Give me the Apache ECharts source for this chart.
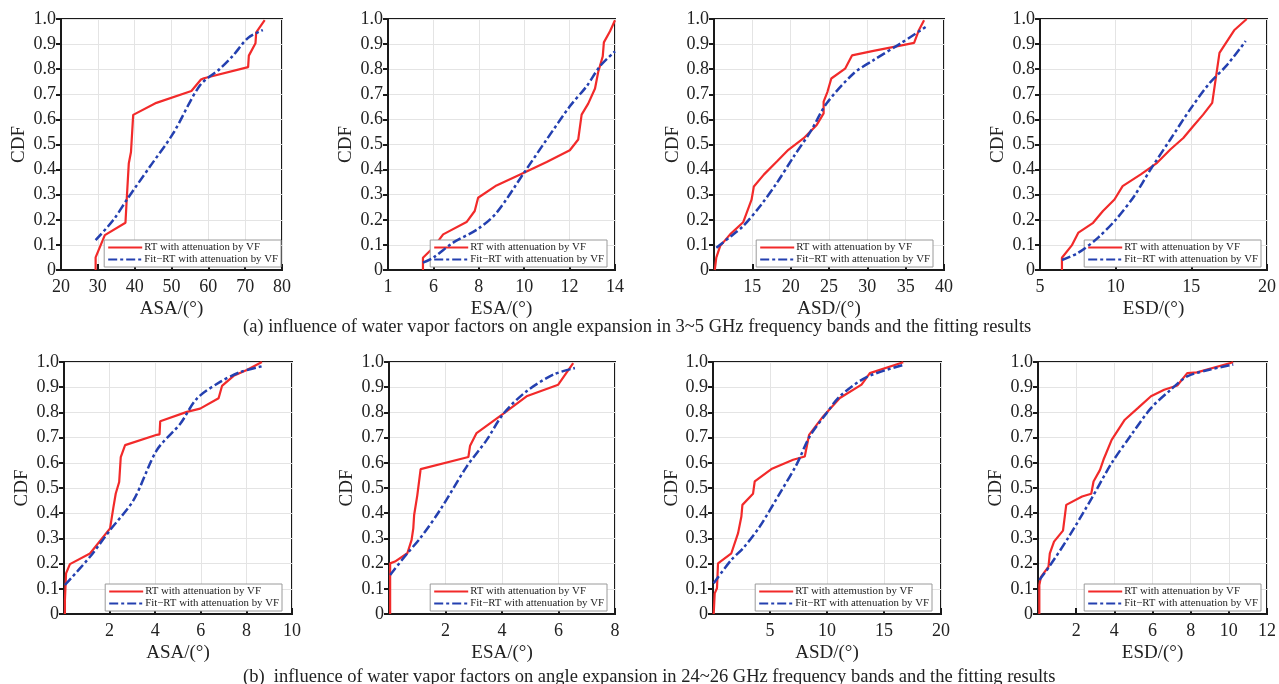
<!DOCTYPE html>
<html>
<head>
<meta charset="utf-8">
<script src="https://cdn.jsdelivr.net/npm/echarts@6/dist/echarts.min.js"></script>
<style>html,body{margin:0;padding:0;background:#fff;}#c{width:1279px;height:684px;}</style>
</head>
<body>
<div id="c"></div>
<script>
// ---- data (x, CDF) ----
const asaA_rt = [[29.4,0],[29.4,0.05],[31.9,0.139],[37.5,0.188],[37.8,0.27],[38.4,0.424],[39.0,0.47],[39.6,0.618],[45.9,0.666],[55.4,0.713],[58.0,0.759],[58.8,0.764],[70.8,0.808],[71.0,0.854],[72.8,0.903],[73.0,0.947],[75.3,0.996]];
const asaA_fit = [[29.4,0.119],[34.2,0.199],[38.1,0.285],[44.1,0.411],[50.4,0.543],[57.7,0.735],[63.1,0.801],[66.7,0.854],[70.8,0.925],[74.8,0.956]];
const esaA_rt = [[5.54,0],[5.54,0.049],[5.99,0.089],[6.43,0.142],[7.46,0.191],[7.82,0.235],[7.97,0.288],[8.78,0.337],[9.99,0.387],[10.99,0.43],[12.01,0.477],[12.38,0.52],[12.46,0.573],[12.53,0.619],[12.82,0.663],[13.12,0.723],[13.26,0.789],[13.46,0.851],[13.51,0.907],[13.78,0.951],[14.0,0.995]];
const esaA_fit = [[5.54,0.029],[5.99,0.049],[6.87,0.109],[7.97,0.164],[8.78,0.228],[9.99,0.387],[10.99,0.52],[12.01,0.652],[12.75,0.732],[13.34,0.812],[14.0,0.871]];
const asdA_rt = [[10.1,0],[10.3,0.049],[10.8,0.095],[12.1,0.142],[13.8,0.19],[14.9,0.28],[15.2,0.333],[16.5,0.38],[18.2,0.432],[19.7,0.479],[21.7,0.525],[23.4,0.578],[24.3,0.624],[24.3,0.671],[24.8,0.71],[25.3,0.763],[27.1,0.802],[28.0,0.855],[30.8,0.873],[34.8,0.897],[36.1,0.905],[36.7,0.954],[37.4,0.995]];
const asdA_fit = [[10.3,0.089],[12.1,0.132],[13.8,0.175],[16.0,0.254],[18.2,0.347],[20.4,0.452],[22.6,0.552],[24.7,0.664],[28.2,0.783],[30.8,0.836],[34.3,0.902],[37.6,0.968]];
const esdA_rt = [[6.45,0],[6.45,0.049],[7.1,0.098],[7.54,0.149],[8.51,0.188],[9.16,0.235],[9.92,0.281],[10.46,0.334],[11.66,0.381],[12.74,0.427],[13.61,0.48],[14.47,0.526],[15.12,0.573],[15.78,0.619],[16.38,0.666],[16.86,0.865],[17.29,0.905],[17.83,0.955],[18.66,1.0]];
const esdA_fit = [[6.45,0.04],[7.54,0.069],[8.84,0.129],[10.03,0.202],[11.22,0.294],[12.31,0.401],[13.61,0.52],[14.91,0.639],[16.21,0.745],[17.29,0.812],[18.59,0.912]];
const asaB_rt = [[0.04,0],[0.04,0.055],[0.09,0.161],[0.26,0.198],[1.14,0.24],[2.02,0.34],[2.17,0.425],[2.27,0.478],[2.42,0.524],[2.49,0.623],[2.68,0.67],[4.07,0.711],[4.19,0.713],[4.22,0.765],[5.39,0.802],[5.97,0.815],[6.78,0.856],[6.93,0.905],[7.44,0.945],[8.02,0.968],[8.68,1.0]];
const asaB_fit = [[0.04,0.115],[1.14,0.227],[2.02,0.333],[3.05,0.452],[4.07,0.65],[5.1,0.755],[5.83,0.855],[6.85,0.921],[7.73,0.96],[8.68,0.983]];
const esaB_rt = [[0.04,0],[0.04,0.201],[0.21,0.208],[0.65,0.241],[0.8,0.294],[0.86,0.34],[0.89,0.393],[1.0,0.47],[1.12,0.575],[2.81,0.623],[2.87,0.668],[3.1,0.718],[4.05,0.795],[4.87,0.864],[5.99,0.91],[6.52,0.996]];
const esaB_fit = [[0.04,0.155],[0.65,0.241],[1.1,0.3],[1.81,0.413],[2.75,0.585],[3.46,0.691],[4.05,0.795],[4.87,0.884],[5.82,0.95],[6.58,0.976]];
const asdB_rt = [[0.06,0],[0.15,0.082],[0.35,0.102],[0.44,0.201],[1.61,0.241],[2.2,0.321],[2.49,0.387],[2.58,0.433],[3.51,0.477],[3.66,0.526],[5.12,0.575],[7.03,0.612],[8.05,0.625],[8.43,0.711],[9.66,0.784],[11.13,0.857],[13.03,0.91],[13.76,0.956],[16.69,0.999]];
const asdB_fit = [[0.06,0.122],[1.61,0.215],[2.64,0.261],[4.1,0.347],[5.86,0.479],[7.32,0.592],[8.49,0.705],[9.96,0.797],[11.13,0.864],[13.47,0.94],[16.84,0.99]];
const esdB_rt = [[0.07,0],[0.07,0.115],[0.15,0.146],[0.55,0.188],[0.62,0.241],[0.84,0.287],[1.31,0.331],[1.48,0.433],[2.31,0.466],[2.79,0.477],[2.91,0.526],[3.25,0.572],[3.43,0.612],[3.86,0.691],[4.55,0.771],[5.23,0.817],[5.92,0.864],[6.61,0.89],[7.3,0.907],[7.82,0.956],[8.33,0.959],[10.23,0.999]];
const esdB_fit = [[0.07,0.135],[0.59,0.188],[1.62,0.307],[2.82,0.46],[3.86,0.599],[4.89,0.711],[5.92,0.817],[6.96,0.89],[7.82,0.943],[9.02,0.97],[10.23,0.99]];

const xNames = ['ASA/(°)','ESA/(°)','ASD/(°)','ESD/(°)','ASA/(°)','ESA/(°)','ASD/(°)','ESD/(°)'];
const xMins = [20,4,10,5,0,0,0,0];
const xMaxs = [80,14,40,20,10,8,20,12];
const xSteps = [10,2,5,5,2,2,5,2];
const rtNames = ['RT with attenuation by VF','RT with attenuation by VF','RT with attenuation by VF','RT with attenuation by VF','RT with attenuation by VF','RT with attenuation by VF','RT with attemustion by VF','RT with attenuation by VF'];
const fitName = 'Fit−RT with attenuation by VF';
const rtData = [asaA_rt,esaA_rt,asdA_rt,esdA_rt,asaB_rt,esaB_rt,asdB_rt,esdB_rt];
const fitData = [asaA_fit,esaA_fit,asdA_fit,esdA_fit,asaB_fit,esaB_fit,asdB_fit,esdB_fit];
const captionA = '(a) influence of water vapor factors on angle expansion in 3~5 GHz frequency bands and the fitting results';
const captionB = '(b)  influence of water vapor factors on angle expansion in 24~26 GHz frequency bands and the fitting results';

// ---- layout ----
const boxes = [
  [61,19,221,251],[388,19,227,251],[714,19,230,251],[1040,19,231,251],
  [64,362,228,252],[389,362,226,252],[713,362,228,252],[1038,362,232,252]
];
const legendInset = [1,8,11,10,10,8,9,9];
const FONT = 'Liberation Serif';
const TXT = '#222';
const W = 1279;

function xLabel(i){
  return function(v){
    if (i === 1 && v === 4) return '1';
    if ((i === 2 || i >= 4) && v === xMins[i]) return '';
    return String(v);
  };
}

const grid=[], xAxis=[], yAxis=[], series=[], legend=[];
boxes.forEach((b,i)=>{
  grid.push({left:b[0], top:b[1], width:b[2], height:b[3], show:true, borderColor:'#1a1a1a', borderWidth:2, backgroundColor:'transparent'});
  xAxis.push({type:'value', gridIndex:i, min:xMins[i], max:xMaxs[i], interval:xSteps[i],
    name:xNames[i], nameLocation:'middle', nameGap:30,
    nameTextStyle:{fontFamily:FONT, fontSize:19, color:TXT},
    axisLine:{show:true, lineStyle:{color:'#1a1a1a', width:2}},
    axisTick:{show:true, inside:true, length:6, lineStyle:{color:'#1a1a1a', width:2}},
    axisLabel:{fontFamily:FONT, fontSize:18, color:TXT, margin:8, formatter:xLabel(i), showMinLabel:true, showMaxLabel:true},
    splitLine:{show:true, lineStyle:{color:'#e4e4e4', width:1}}
  });
  yAxis.push({type:'value', gridIndex:i, min:0, max:1, interval:0.1,
    name:'CDF', nameLocation:'middle', nameGap:(i===2||i===6)?30:32, nameRotate:90,
    nameTextStyle:{fontFamily:FONT, fontSize:19, color:TXT},
    axisLine:{show:true, lineStyle:{color:'#1a1a1a', width:2}},
    axisTick:{show:true, inside:false, length:5, lineStyle:{color:'#1a1a1a', width:2}},
    axisLabel:{fontFamily:FONT, fontSize:18, color:TXT, margin:5, formatter:v=>v===0?'0':v.toFixed(1)},
    splitLine:{show:true, lineStyle:{color:'#e4e4e4', width:1}}
  });
  series.push({type:'line', name:rtNames[i], xAxisIndex:i, yAxisIndex:i, data:rtData[i], symbol:'none', z:3,
    lineStyle:{color:'#f22a2a', width:2.2}, itemStyle:{color:'#f22a2a'}});
  series.push({type:'line', name:fitName, xAxisIndex:i, yAxisIndex:i, data:fitData[i], symbol:'none', smooth:0.3, z:4,
    lineStyle:{color:'#2440b0', width:2.5, type:[9,3,3,3]}, itemStyle:{color:'#2440b0'}});
  const gr = b[0]+b[2];
  legend.push({orient:'vertical', right: W-(gr-legendInset[i]), top: b[1]+b[3]-30,
    data:[rtNames[i], fitName], itemWidth:34, itemHeight:10, itemGap:1,
    padding:[2,3,2,3], backgroundColor:'#fff', borderColor:'#9a9a9a', borderWidth:1,
    itemStyle:{color:'rgba(0,0,0,0)', borderWidth:0, opacity:0},
    textStyle:{fontFamily:FONT, fontSize:10.8, color:TXT, padding:[0,0,0,-3]}, selectedMode:false});
});

const chart = echarts.init(document.getElementById('c'), null, {renderer:'canvas'});
chart.setOption({
  backgroundColor:'#fff',
  animation:false,
  title:[
    {text:captionA, left:243, top:318, padding:0, textStyle:{fontFamily:FONT, fontSize:18.5, fontWeight:'normal', color:TXT}},
    {text:captionB, left:243, top:668, padding:0, textStyle:{fontFamily:FONT, fontSize:18.5, fontWeight:'normal', color:TXT}}
  ],
  grid, xAxis, yAxis, series, legend
});
</script>
</body>
</html>
